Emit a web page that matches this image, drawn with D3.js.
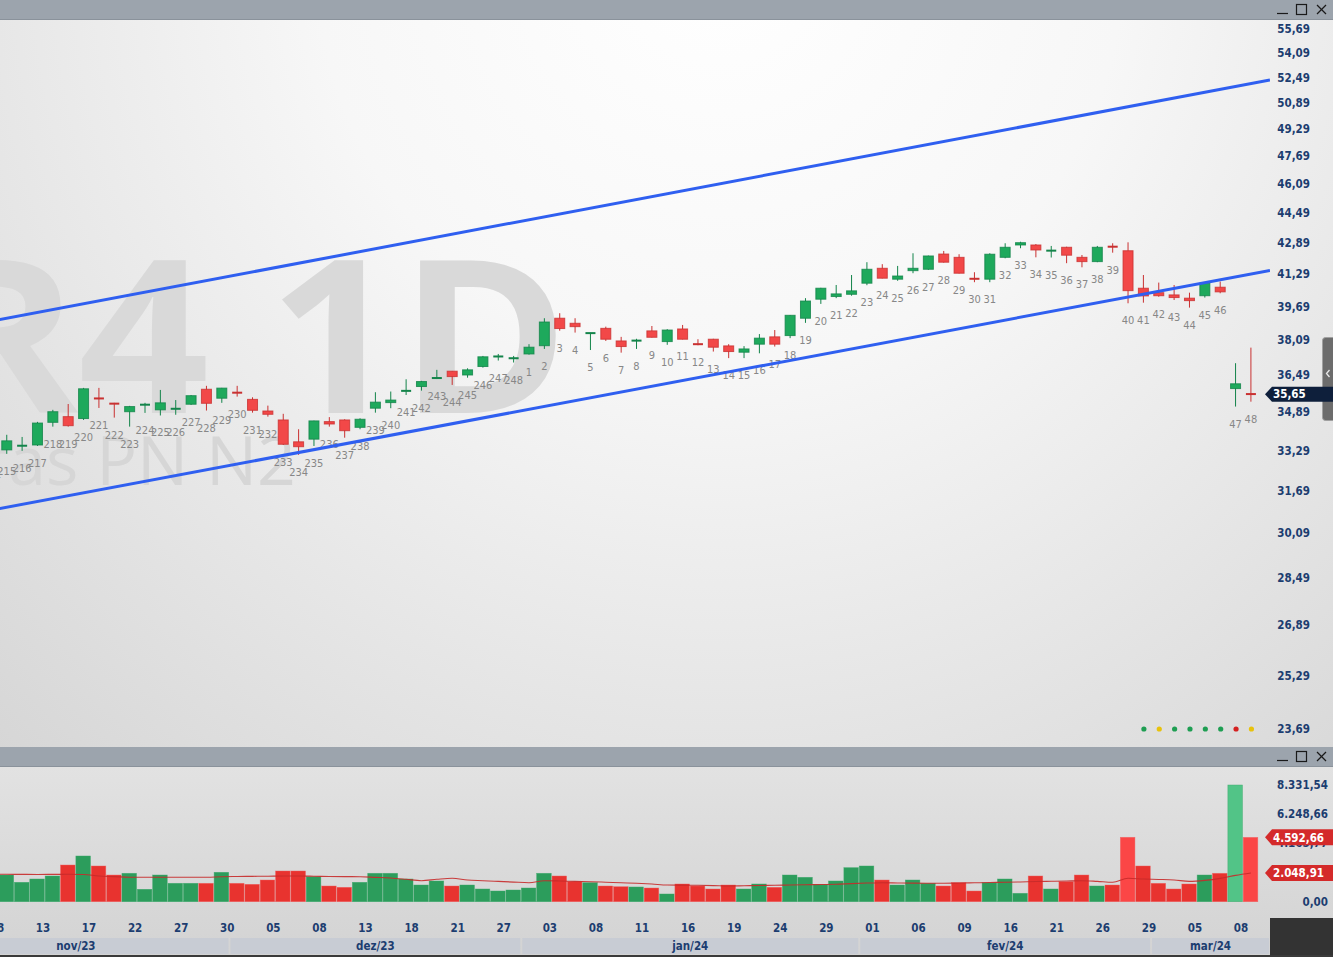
<!DOCTYPE html>
<html><head><meta charset="utf-8">
<script src="https://cdn.jsdelivr.net/npm/d3@7"></script>
<style>
html,body{margin:0;padding:0;overflow:hidden;background:#fff}
svg{display:block}
</style>
</head><body>
<svg id="chart" width="1333" height="957"></svg>
<script>
// ---------------- DATA ----------------
const candleIds = [214,215,216,217,218,219,220,221,222,223,224,225,226,227,228,229,230,231,232,233,234,235,236,237,238,239,240,241,242,243,244,245,246,247,248,
  1,2,3,4,5,6,7,8,9,10,11,12,13,14,15,16,17,18,19,20,21,22,23,24,25,26,27,28,29,30,31,32,33,34,35,36,37,38,39,40,41,42,43,44,45,46,47,48];
const dates = ["2023-11-08","2023-11-09","2023-11-10","2023-11-13","2023-11-14","2023-11-16","2023-11-17","2023-11-20","2023-11-21","2023-11-22","2023-11-23","2023-11-24","2023-11-27","2023-11-28","2023-11-29","2023-11-30",
  "2023-12-01","2023-12-04","2023-12-05","2023-12-06","2023-12-07","2023-12-08","2023-12-11","2023-12-12","2023-12-13","2023-12-14","2023-12-15","2023-12-18","2023-12-19","2023-12-20","2023-12-21","2023-12-22","2023-12-26","2023-12-27","2023-12-28",
  "2024-01-02","2024-01-03","2024-01-04","2024-01-05","2024-01-08","2024-01-09","2024-01-10","2024-01-11","2024-01-12","2024-01-15","2024-01-16","2024-01-17","2024-01-18","2024-01-19","2024-01-22","2024-01-23","2024-01-24","2024-01-25","2024-01-26","2024-01-29","2024-01-30","2024-01-31",
  "2024-02-01","2024-02-02","2024-02-05","2024-02-06","2024-02-07","2024-02-08","2024-02-09","2024-02-14","2024-02-15","2024-02-16","2024-02-19","2024-02-20","2024-02-21","2024-02-22","2024-02-23","2024-02-26","2024-02-27","2024-02-28","2024-02-29",
  "2024-03-01","2024-03-04","2024-03-05","2024-03-06","2024-03-07","2024-03-08","2024-03-11"];
const opens = [33.20,33.31,33.45,33.51,34.45,34.69,34.61,35.49,35.26,34.90,35.19,34.98,35.01,35.22,35.87,35.48,35.73,35.43,34.93,34.55,33.64,33.75,34.48,34.55,34.24,35.05,35.29,35.78,35.99,36.35,36.67,36.50,36.88,37.32,37.24,
  37.45,37.83,39.12,38.88,38.40,38.64,38.05,38.05,38.52,38.02,38.61,37.94,38.13,37.82,37.53,37.90,38.24,38.30,39.12,40.04,40.17,40.28,40.83,41.58,41.03,41.46,41.53,42.31,42.14,41.10,41.03,42.14,42.78,42.78,42.47,42.66,42.14,41.92,42.70,42.48,40.58,40.36,40.25,40.09,40.21,40.63,35.90,35.67];
const highs = [33.55,33.93,33.84,34.47,34.98,35.23,35.93,35.93,35.28,35.15,35.28,35.84,35.40,35.62,36.02,35.93,36.02,35.52,35.16,34.81,34.16,34.52,34.67,34.58,34.62,35.74,35.77,36.31,36.24,36.73,36.68,36.80,37.36,37.45,37.36,
  37.90,39.12,39.36,39.12,38.43,38.72,38.24,38.15,38.75,38.60,38.80,38.13,38.15,37.90,37.81,38.37,38.56,39.27,40.09,40.60,40.74,41.24,41.89,41.79,41.70,42.35,42.23,42.47,42.30,41.38,42.35,42.87,42.95,42.83,42.73,42.69,42.26,42.73,42.87,42.92,41.24,40.86,40.74,40.36,40.86,40.91,37.03,37.74];
const lows = [32.95,33.15,33.27,33.47,34.27,34.27,34.55,35.06,34.65,34.27,34.85,34.74,34.77,35.19,34.95,35.28,35.55,34.86,34.69,33.51,33.11,33.47,34.27,33.81,34.16,34.86,35.05,35.62,35.81,36.32,36.06,36.38,36.83,37.15,37.06,
  37.42,37.68,38.53,38.44,37.63,38.05,37.51,37.68,38.21,37.87,38.12,37.85,37.56,37.26,37.26,37.48,37.79,38.18,38.90,39.81,40.09,40.21,40.73,41.07,40.95,41.33,41.50,41.87,41.32,40.88,40.88,42.09,42.61,42.14,42.13,41.84,41.63,41.89,42.38,39.84,39.87,40.16,40.00,39.63,40.12,40.33,35.12,35.33];
const closes = [33.35,33.68,33.51,34.42,34.90,34.31,35.89,35.45,35.23,35.12,35.21,35.28,35.04,35.59,35.26,35.92,35.71,34.96,34.79,33.54,33.44,34.51,34.38,34.10,34.58,35.31,35.40,35.82,36.21,36.38,36.43,36.73,37.32,37.35,37.27,
  37.76,38.94,38.63,38.72,38.43,38.13,37.79,38.08,38.22,38.56,38.13,37.86,37.76,37.56,37.68,38.18,37.90,39.26,39.95,40.58,40.30,40.45,41.53,41.08,41.19,41.58,42.21,41.89,41.33,41.00,42.30,42.66,42.90,42.52,42.50,42.25,41.92,42.66,42.68,40.46,40.20,40.21,40.12,39.97,40.83,40.40,36.11,35.65];
const volumes = [1500,1906,1385,1621,1835,2620,3263,2549,1906,2028,885,1906,1314,1314,1314,2099,1314,1242,1549,2192,2192,1785,1121,1028,1385,2028,2028,1621,1192,1478,1121,1192,907,764,835,
  978,2028,1835,1428,1357,1121,1071,1050,978,550,1264,1121,907,1192,907,1264,1028,1906,1742,1242,1478,2428,2549,1549,1192,1549,1314,1121,1357,764,1357,1621,600,1835,907,1428,1906,1121,1192,4598,2549,1314,907,1264,1906,2028,8331.54,4592.66];
const volumeAverage = [1960,1956,1950,1945,1950,1956,1940,1835,1790,1742,1742,1742,1742,1742,1742,1785,1800,1810,1820,1835,1835,1820,1800,1790,1785,1740,1692,1600,1499,1600,1671,1549,1500,1450,1400,
  1357,1499,1480,1450,1428,1390,1350,1314,1260,1192,1180,1171,1150,1121,1140,1160,1171,1192,1210,1225,1242,1290,1330,1357,1340,1325,1318,1314,1330,1350,1370,1385,1410,1440,1460,1480,1499,1450,1385,1671,1620,1590,1549,1450,1520,1663,1878,2048.91];
const priceTicks = [55.69,54.09,52.49,50.89,49.29,47.69,46.09,44.49,42.89,41.29,39.69,38.09,36.49,34.89,33.29,31.69,30.09,28.49,26.89,25.29,23.69];
const volumeTicks = [0,2082.89,4165.77,6248.66,8331.54];
const monthLabels = ["nov/23","dez/23","jan/24","fev/24","mar/24"];
const monthTradingDays = [20,19,22,19,20];
// channel lines: [candle position (fractional index), price]
const upperChannel = [[0,38.98],[83.24,52.33]];
const lowerChannel = [[0,30.95],[83.24,41.47]];
const lastPrice = 35.65;
const lastVolume = 4592.66;
const lastVolumeAverage = 2048.91;
const watermarkTicker = "PETR4 1D";
const watermarkName = "Petrobras PN N2";
const statusDots = ["#1e9e52","#e8c20c","#1e9e52","#1e9e52","#1e9e52","#1e9e52","#d42020","#e8c20c"];

// ---------------- LAYOUT ----------------
const W = 1333, H = 957;
const plotRight = 1258.6, step = 15.36, axisRight = 1270;
const mainTop = 20, mainBottom = 747, volTop = 767, volBottom = 918;
const n = dates.length;
const FONT = "'DejaVu Sans Condensed','DejaVu Sans',Verdana,sans-serif";
const AXIS_BLUE = "#1c3d70";
const GREEN = "#1ea95c", GREEN_D = "#13844a", RED = "#f24848", RED_D = "#c93131";

const svg = d3.select("#chart");
const defs = svg.append("defs");

const parse = d3.timeParse("%Y-%m-%d");
const dateObjs = dates.map(parse);

const x = d3.scaleBand().domain(d3.range(n)).range([plotRight - n*step, plotRight]).padding(0);
const xc = i => x(i) + x.bandwidth()/2;
const xPos = d3.scaleLinear().domain([0, n-1]).range([xc(0), xc(n-1)]);
const y = d3.scaleLog().domain([23.69, 55.69]).range([729, 29]);
const yv = d3.scaleLinear().domain([0, 8331.54]).range([901.7, 785]);

// gradients
const rg = defs.append("radialGradient").attr("id","bgMain")
  .attr("gradientUnits","userSpaceOnUse").attr("cx",720).attr("cy",-40).attr("r",1150)
  .attr("fx",720).attr("fy",-40);
rg.append("stop").attr("offset",0).attr("stop-color","#ffffff");
rg.append("stop").attr("offset",0.35).attr("stop-color","#f7f7f7");
rg.append("stop").attr("offset",1).attr("stop-color","#d2d2d2");
const lg = defs.append("linearGradient").attr("id","bgVol").attr("x1",0).attr("y1",0).attr("x2",0).attr("y2",1);
lg.append("stop").attr("offset",0).attr("stop-color","#e2e2e2");
lg.append("stop").attr("offset",1).attr("stop-color","#d3d3d3");

defs.append("clipPath").attr("id","clipMain").append("rect").attr("x",0).attr("y",mainTop).attr("width",axisRight).attr("height",mainBottom-mainTop);
defs.append("clipPath").attr("id","clipVol").append("rect").attr("x",0).attr("y",volTop).attr("width",axisRight).attr("height",volBottom-volTop);
defs.append("clipPath").attr("id","clipX").append("rect").attr("x",0).attr("y",volBottom).attr("width",axisRight).attr("height",H-volBottom);

// backgrounds
svg.append("rect").attr("x",0).attr("y",mainTop).attr("width",W).attr("height",mainBottom-mainTop).attr("fill","url(#bgMain)");
svg.append("rect").attr("x",0).attr("y",volTop).attr("width",W).attr("height",H-volTop).attr("fill","url(#bgVol)");

// title bars
function titleBar(y0){
  svg.append("rect").attr("x",0).attr("y",y0).attr("width",W).attr("height",20).attr("fill","#9ca4ad");
  svg.append("line").attr("x1",0).attr("x2",W).attr("y1",y0+19.5).attr("y2",y0+19.5).attr("stroke","#8a929b");
  const ic = svg.append("g").attr("stroke","#1a1a1a").attr("stroke-width",1.2).attr("fill","none");
  ic.append("line").attr("x1",1277).attr("x2",1288).attr("y1",y0+13.5).attr("y2",y0+13.5);
  ic.append("rect").attr("x",1296.5).attr("y",y0+4.5).attr("width",10).attr("height",10);
  ic.append("line").attr("x1",1317).attr("x2",1326).attr("y1",y0+5).attr("y2",y0+14);
  ic.append("line").attr("x1",1326).attr("x2",1317).attr("y1",y0+5).attr("y2",y0+14);
}
titleBar(0);
titleBar(mainBottom);

// watermark
const wm = svg.append("g").attr("clip-path","url(#clipMain)");
wm.append("text").attr("transform","translate(569,413) scale(1.07,1)").attr("text-anchor","end")
  .attr("font-family","'Open Sans','Noto Sans',sans-serif").attr("font-weight",700).attr("font-size",214)
  .attr("fill","#d9d9d9").text(watermarkTicker);
wm.append("text").attr("x",296).attr("y",485).attr("text-anchor","end")
  .attr("font-family","'Open Sans','Noto Sans',sans-serif").attr("font-weight",400).attr("font-size",68)
  .attr("fill","#d6d6d6").text(watermarkName);

// candles
const main = svg.append("g").attr("clip-path","url(#clipMain)");
const up = i => closes[i] >= opens[i];
const bodyW = 11;
const cg = main.selectAll("g.candle").data(d3.range(n)).join("g").attr("class","candle");
cg.append("line").attr("x1",i=>xc(i)).attr("x2",i=>xc(i))
  .attr("y1",i=>y(highs[i])).attr("y2",i=>y(lows[i]))
  .attr("stroke",i=>up(i)?GREEN_D:RED_D).attr("stroke-width",1);
cg.append("rect").attr("x",i=>xc(i)-bodyW/2+0.5)
  .attr("y",i=>{const t=y(Math.max(opens[i],closes[i])), b=y(Math.min(opens[i],closes[i])); return b-t<2 ? (t+b)/2-1 : t;})
  .attr("width",bodyW-1)
  .attr("height",i=>Math.max(2, y(Math.min(opens[i],closes[i]))-y(Math.max(opens[i],closes[i]))))
  .attr("fill",i=>{const h=y(Math.min(opens[i],closes[i]))-y(Math.max(opens[i],closes[i])); return h<2 ? (up(i)?GREEN_D:RED_D) : (up(i)?GREEN:RED);})
  .attr("stroke",i=>up(i)?GREEN_D:RED_D).attr("stroke-width",1)
  .attr("stroke-opacity",i=>{const h=y(Math.min(opens[i],closes[i]))-y(Math.max(opens[i],closes[i])); return h<2?0:0.8;});
cg.append("text").attr("x",i=>xc(i)).attr("y",i=>y(lows[i])+21)
  .attr("text-anchor","middle").attr("font-family",FONT).attr("font-size",11).attr("fill","#878787")
  .text(i=>candleIds[i]);

// channel lines
const chLine = d3.line().x(d=>xPos(d[0])).y(d=>y(d[1]));
[upperChannel, lowerChannel].forEach(c=>{
  svg.append("path").attr("d",chLine(c)).attr("fill","none").attr("stroke","#2f5ff0").attr("stroke-width",3)
    .attr("clip-path","url(#clipMain)");
});

// status dots
statusDots.forEach((c,k)=>{
  svg.append("circle").attr("cx",xc(n-8+k)+0.5).attr("cy",729).attr("r",2.6).attr("fill",c);
});

// price axis labels
svg.append("g").selectAll("text").data(priceTicks).join("text")
  .attr("x",1310).attr("y",d=>y(d)).attr("dy","0.36em").attr("text-anchor","end")
  .attr("font-family",FONT).attr("font-weight",700).attr("font-size",11.5).attr("fill",AXIS_BLUE)
  .text(d=>d.toFixed(2).replace(".",","));

// scroll handle
svg.append("rect").attr("x",1322.5).attr("y",337.5).attr("width",14).attr("height",83).attr("rx",3)
  .attr("fill","#6c6c6c").attr("stroke","#a0a0a0");
svg.append("path").attr("d","M1329.5,370 L1326.5,373.5 L1329.5,377").attr("fill","none").attr("stroke","#e8e8e8").attr("stroke-width",1.3);

// value tags
const fmt2 = d3.format(",.2f");
const brFmt = v => fmt2(v).replace(/,/g,"#").replace(/\./g,",").replace(/#/g,".");
function tag(yc, text, fill, h){
  const x0 = 1265, x1 = 1333, hh = h/2;
  svg.append("path").attr("d",`M${x0},${yc} L${x0+7},${yc-hh} L${x1},${yc-hh} L${x1},${yc+hh} L${x0+7},${yc+hh} Z`).attr("fill",fill);
  svg.append("text").attr("x",1273).attr("y",yc).attr("dy","0.36em")
    .attr("font-family",FONT).attr("font-weight",700).attr("font-size",11.5).attr("fill","#ffffff").text(text);
}
tag(y(lastPrice), brFmt(lastPrice), "#0e1f3b", 15);

// volume bars
const vol = svg.append("g").attr("clip-path","url(#clipVol)");
const bright = i => volumes[i] > 2*volumeAverage[i];
vol.selectAll("rect").data(d3.range(n)).join("rect")
  .attr("x",i=>x(i)).attr("width",x.bandwidth()-0.8)
  .attr("y",i=>yv(volumes[i])).attr("height",i=>yv(0)-yv(volumes[i]))
  .attr("fill",i=> up(i) ? (bright(i)?"#52c487":"#2c9d5c") : (bright(i)?"#fb4646":"#e8332f"))
  .attr("stroke",i=> up(i) ? "#3aa86a" : "#f06060").attr("stroke-width",0.6).attr("stroke-opacity",0.7);
const maLine = d3.line().x((d,i)=>xc(i)).y(d=>yv(d)).curve(d3.curveMonotoneX);
vol.append("path").attr("d",maLine(volumeAverage)).attr("fill","none").attr("stroke","#c62a2a").attr("stroke-width",1.1).attr("stroke-opacity",0.9);

// volume axis labels
svg.append("g").selectAll("text").data(volumeTicks).join("text")
  .attr("x",1328).attr("y",d=>yv(d)).attr("dy","0.36em").attr("text-anchor","end")
  .attr("font-family",FONT).attr("font-weight",700).attr("font-size",11.5).attr("fill",AXIS_BLUE)
  .text(d=>brFmt(d));
tag(yv(lastVolume), brFmt(lastVolume), "#d42a2a", 16);
tag(yv(lastVolumeAverage), brFmt(lastVolumeAverage), "#d42a2a", 16);

// x axis: day labels
const xa = svg.append("g").attr("clip-path","url(#clipX)");
const dayFmt = d3.timeFormat("%d");
xa.selectAll("text.day").data(d3.range(0,n,3)).join("text").attr("class","day")
  .attr("x",i=>xc(i)+5.5).attr("y",928).attr("dy","0.36em").attr("text-anchor","middle")
  .attr("font-family",FONT).attr("font-weight",700).attr("font-size",11.5).attr("fill",AXIS_BLUE)
  .text(i=>dayFmt(dateObjs[i]));

// month bands
const monthKey = d3.timeFormat("%Y-%m");
const groups = d3.groups(d3.range(n), i=>monthKey(dateObjs[i]));
groups.forEach(([k, idxs], m)=>{
  const first = idxs[0], last = idxs[idxs.length-1];
  const start = m===0 ? last - monthTradingDays[m] + 1 : first;
  const end = start + monthTradingDays[m];
  const xs = x.range()[0] + start*step;
  const xe = Math.min(x.range()[0] + end*step, axisRight);
  xa.append("rect").attr("x",xs+1).attr("y",938).attr("width",Math.max(0,xe-xs-2)).attr("height",16).attr("fill","#c8ccd4");
  xa.append("text").attr("x",(xs+xe)/2).attr("y",946).attr("dy","0.36em").attr("text-anchor","middle")
    .attr("font-family",FONT).attr("font-weight",700).attr("font-size",11.5).attr("fill",AXIS_BLUE)
    .text(monthLabels[m]);
});
// bottom frame
svg.append("rect").attr("x",axisRight).attr("y",volBottom).attr("width",W-axisRight).attr("height",H-volBottom).attr("fill","#333333");
svg.append("rect").attr("x",0).attr("y",955).attr("width",W).attr("height",2).attr("fill","#3a3a3a");
</script>
</body></html>
